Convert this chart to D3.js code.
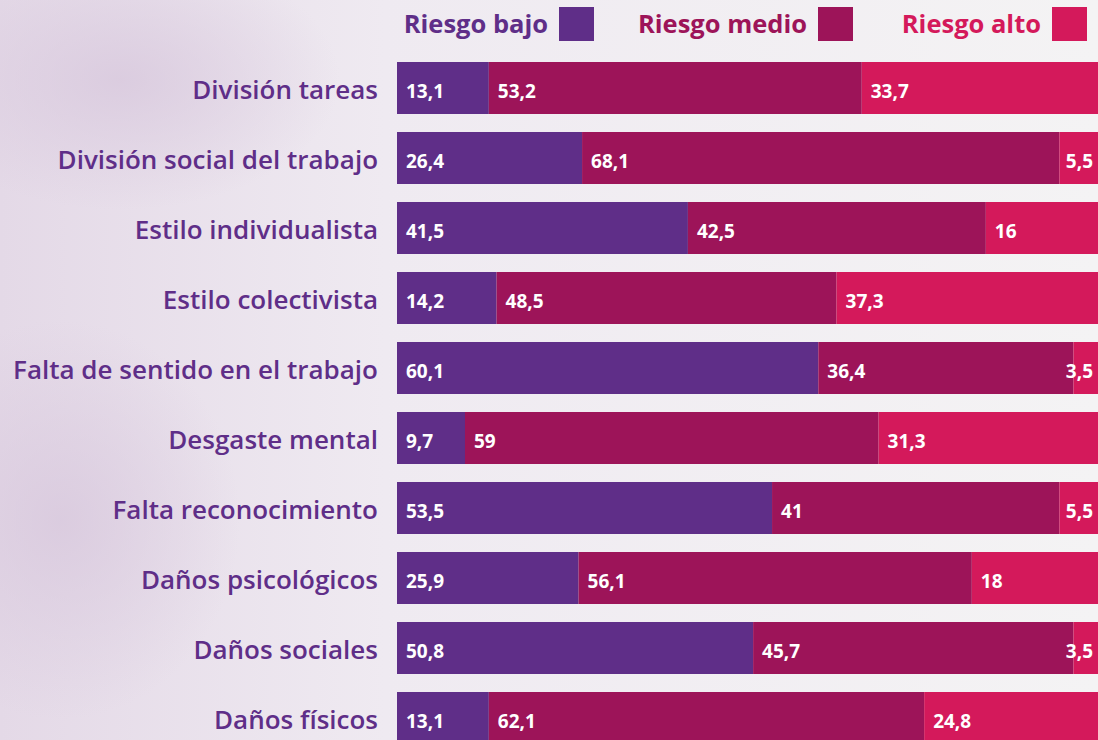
<!DOCTYPE html>
<html>
<head>
<meta charset="utf-8">
<script src="https://cdn.jsdelivr.net/npm/d3@7"></script>
<style>
  body { margin: 0; overflow: hidden; }
  text { font-family: 'Open Sans', sans-serif; }
</style>
</head>
<body>
<div id="vis"></div>
<script>
// data
const categories = [
  'División tareas',
  'División social del trabajo',
  'Estilo individualista',
  'Estilo colectivista',
  'Falta de sentido en el trabajo',
  'Desgaste mental',
  'Falta reconocimiento',
  'Daños psicológicos',
  'Daños sociales',
  'Daños físicos'
];
const riesgoBajo  = [13.1, 26.4, 41.5, 14.2, 60.1, 9.7, 53.5, 25.9, 50.8, 13.1];
const riesgoMedio = [53.2, 68.1, 42.5, 48.5, 36.4, 59, 41, 56.1, 45.7, 62.1];
const riesgoAlto  = [33.7, 5.5, 16, 37.3, 3.5, 31.3, 5.5, 18, 3.5, 24.8];
const seriesNames = ['Riesgo bajo', 'Riesgo medio', 'Riesgo alto'];
const colors = ['#5f2e88', '#9d1459', '#d4195b'];

const W = 1098, H = 740;
const margin = { top: 62, left: 397 };

let svg = d3.select('#vis')
  .append('svg')
  .attr('width', W)
  .attr('height', H);

// background wash
let defs = svg.append('defs');
let bg = defs.append('linearGradient').attr('id', 'bg').attr('x1', 0).attr('x2', 1).attr('y1', 0).attr('y2', 0);
bg.append('stop').attr('offset', '0%').attr('stop-color', '#e4d9e7');
bg.append('stop').attr('offset', '35%').attr('stop-color', '#efeaf1');
bg.append('stop').attr('offset', '100%').attr('stop-color', '#f4f3f4');
let wash = defs.append('radialGradient').attr('id', 'wash');
wash.append('stop').attr('offset', '0%').attr('stop-color', '#d8c8dd').attr('stop-opacity', 0.8);
wash.append('stop').attr('offset', '100%').attr('stop-color', '#d8c8dd').attr('stop-opacity', 0);

svg.append('rect').attr('width', W).attr('height', H).attr('fill', 'url(#bg)');
svg.append('ellipse').attr('cx', 60).attr('cy', 520).attr('rx', 180).attr('ry', 200).attr('fill', 'url(#wash)');
svg.append('ellipse').attr('cx', 120).attr('cy', 80).attr('rx', 220).attr('ry', 130).attr('fill', 'url(#wash)');

// stacked data
let rows = categories.map((c, i) => ({
  cat: c, 'Riesgo bajo': riesgoBajo[i], 'Riesgo medio': riesgoMedio[i], 'Riesgo alto': riesgoAlto[i]
}));
let stack = d3.stack().keys(seriesNames)(rows);

let x = d3.scaleLinear().domain([0, 100]).range([margin.left, margin.left + 701]);
// step 70, bar 52
let y = d3.scaleBand().domain(categories).range([margin.top, margin.top + 70 * categories.length - 18])
  .paddingInner(18 / 70).paddingOuter(0);

let groups = svg.selectAll('g.series')
  .data(stack)
  .join('g')
  .attr('class', 'series')
  .attr('fill', (d, i) => colors[i]);

groups.selectAll('rect')
  .data(d => d)
  .join('rect')
  .attr('x', d => x(d[0]))
  .attr('y', d => y(d.data.cat))
  .attr('width', d => x(d[1]) - x(d[0]))
  .attr('height', y.bandwidth());

// value labels; small last segments are right aligned to the bar end
groups.selectAll('text')
  .data(d => d.map(v => ({ v, key: d.key })))
  .join('text')
  .attr('x', d => (d.v[1] - d.v[0] < 7 ? x(d.v[1]) - 5 : x(d.v[0]) + 9))
  .attr('text-anchor', d => (d.v[1] - d.v[0] < 7 ? 'end' : 'start'))
  .attr('y', d => y(d.v.data.cat) + y.bandwidth() / 2 + 10)
  .attr('fill', '#fff')
  .attr('font-size', 19)
  .attr('font-weight', 700)
  .text(d => String(d.v.data[d.key]).replace('.', ','));

// category labels
svg.append('g')
  .selectAll('text')
  .data(categories)
  .join('text')
  .attr('x', 378)
  .attr('y', d => y(d) + y.bandwidth() / 2 + 11)
  .attr('text-anchor', 'end')
  .attr('fill', '#5f2e88')
  .attr('font-size', 26)
  .attr('font-weight', 600)
  .text(d => d);

// legend
const legendX = [548, 807, 1041];
let legend = svg.append('g')
  .selectAll('g')
  .data(seriesNames)
  .join('g');
legend.append('text')
  .attr('x', (d, i) => legendX[i])
  .attr('y', 33)
  .attr('text-anchor', 'end')
  .attr('fill', (d, i) => colors[i])
  .attr('font-size', 25.5)
  .attr('font-weight', 700)
  .text(d => d);
legend.append('rect')
  .attr('x', (d, i) => legendX[i] + 11)
  .attr('y', 7)
  .attr('width', 35)
  .attr('height', 34)
  .attr('fill', (d, i) => colors[i]);
</script>
</body>
</html>
